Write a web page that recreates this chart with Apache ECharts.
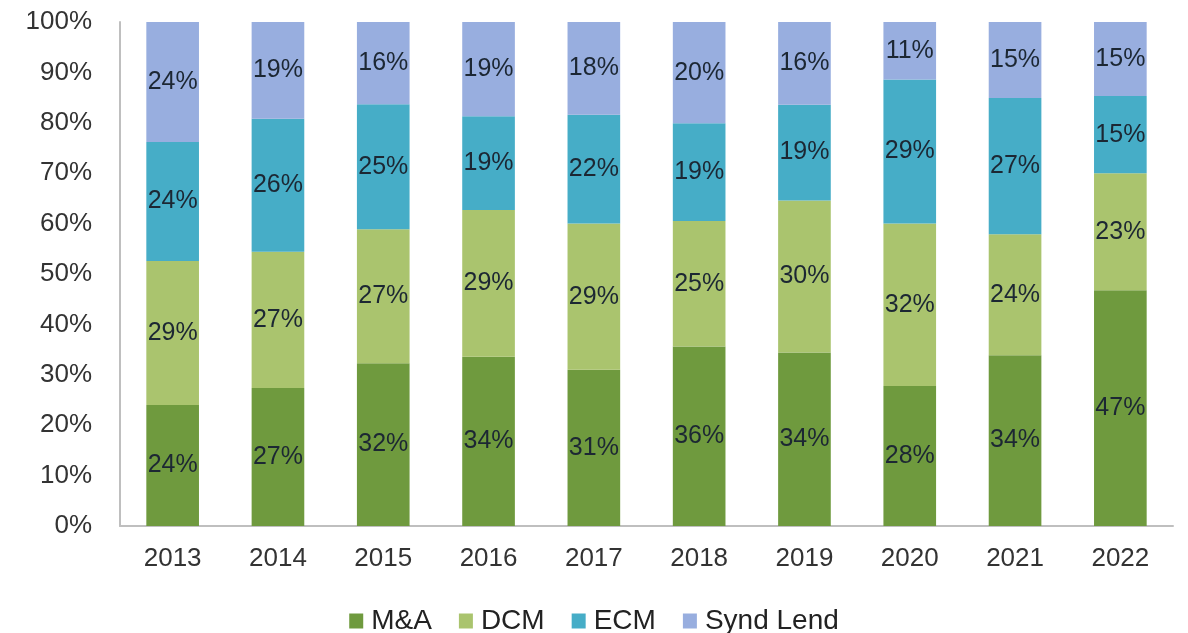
<!DOCTYPE html>
<html><head><meta charset="utf-8">
<script src="https://cdn.jsdelivr.net/npm/echarts@6/dist/echarts.min.js"></script>
<style>html,body{margin:0;padding:0;background:#fff}#c{width:1188px;height:633px}</style>
</head><body><div id="c"></div>
<script>
const categories = ['2013','2014','2015','2016','2017','2018','2019','2020','2021','2022'];
const mna      = [24.0, 27.4, 32.3, 33.6, 31.0, 35.6, 34.4, 27.8, 33.9, 46.8];
const dcm      = [28.6, 27.0, 26.6, 29.1, 29.0, 24.9, 30.2, 32.2, 24.0, 23.2];
const ecm      = [23.6, 26.4, 24.8, 18.6, 21.6, 19.4, 19.0, 28.6, 27.0, 15.3];
const syndLend = [23.8, 19.2, 16.3, 18.7, 18.4, 20.1, 16.4, 11.4, 15.1, 14.7];
const yTicks = [0,10,20,30,40,50,60,70,80,90,100];

const font = 'Liberation Sans, Arial, sans-serif';
const lbl = {show:true, position:'inside', formatter: p => Math.round(p.value) + '%', color:'#1c2733', fontSize:25, fontFamily:font};
function s(name, data, color){
  return {name, type:'bar', stack:'t', data, barWidth:'50%', itemStyle:{color}, label:lbl};
}
const chart = echarts.init(document.getElementById('c'), null, {renderer:'canvas'});
chart.setOption({
  animation:false,
  textStyle:{fontFamily:font},
  grid:{left:120, right:15, top:22, bottom:107, containLabel:false},
  legend:{top:602, left:'center', itemWidth:14, itemHeight:15, itemGap:27, icon:'rect',
    textStyle:{fontSize:28, color:'#222', fontFamily:font, padding:[0,0,0,3]}},
  xAxis:{type:'category', data:categories,
    axisLine:{lineStyle:{color:'#bfbfbf', width:2}}, axisTick:{show:false},
    axisLabel:{fontSize:26, color:'#333', margin:20, fontFamily:font}},
  yAxis:{type:'value', min:0, max:100, interval:10,
    axisLine:{show:true, lineStyle:{color:'#bfbfbf', width:2}}, axisTick:{show:false},
    splitLine:{show:false},
    axisLabel:{fontSize:26, color:'#333', margin:28, fontFamily:font,
      formatter: v => yTicks.includes(v) ? v + '%' : ''}},
  series:[
    s('M&A', mna, '#6f9a3e'),
    s('DCM', dcm, '#aac46e'),
    s('ECM', ecm, '#46adc7'),
    s('Synd Lend', syndLend, '#98aedf')
  ]
});
</script></body></html>
